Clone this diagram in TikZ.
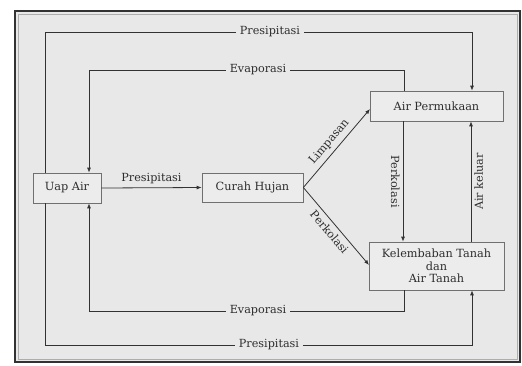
\documentclass[tikz,border=0pt]{standalone}
\usepackage{fontspec}
\setmainfont{DejaVu Serif}
\usetikzlibrary{arrows.meta}
\definecolor{bgc}{RGB}{232,232,232}
\definecolor{boxc}{RGB}{236,236,236}
\definecolor{linec}{RGB}{50,50,50}
\definecolor{txtc}{RGB}{45,45,45}
\begin{document}
\begin{tikzpicture}[x=1pt,y=-1pt,
  box/.style={draw=linec!70, line width=0.7pt, fill=boxc, text=txtc, font=\fontsize{11.3}{12.5}\selectfont, inner sep=0pt, align=center},
  conn/.style={draw=linec, line width=0.8pt},
  arr/.style={conn, -{Latex[length=5pt,width=4pt]}},
  lbl/.style={fill=bgc, text=txtc, font=\fontsize{11.2}{12}\selectfont, inner sep=4pt},
  slbl/.style={text=txtc, font=\fontsize{11.2}{12}\selectfont, inner sep=3pt}]
\useasboundingbox (0,0) rectangle (522,365);
\fill[white] (0,0) rectangle (522,365);
\fill[bgc] (15,11) rectangle (520,362);
\draw[linec, line width=1.4pt] (15,11) rectangle (520,362);
\draw[linec!40, line width=0.6pt] (18,14) rectangle (517,359);

\node[box, minimum width=68pt, minimum height=30pt] (uap) at (67,188) {Uap Air};
\node[box, minimum width=101pt, minimum height=29pt] (curah) at (252.5,187.5) {Curah Hujan};
\node[box, minimum width=133pt, minimum height=30pt] (airp) at (436.5,106) {Air Permukaan};
\node[box, minimum width=135pt, minimum height=48pt] (kel) at (436.5,266) {Kelembaban Tanah\\dan\\Air Tanah};

\coordinate (t1) at (45,32);
\coordinate (t2) at (472,32);
\coordinate (e1) at (404,70);
\coordinate (e2) at (89,70);
\coordinate (b1) at (404,311);
\coordinate (b2) at (89,311);
\coordinate (p1) at (45,345);
\coordinate (p2) at (472,345);

% top presipitasi
\draw[arr] (uap.north -| t1) -- (t1) -- (t2) -- (airp.north -| t2);
\node[lbl] (lp1) at (270,32) {Presipitasi};
% top evaporasi
\draw[arr] (airp.north -| e1) -- (e1) -- (e2) -- (uap.north -| e2);
\node[lbl] (le1) at (258,70) {Evaporasi};
% bottom evaporasi
\draw[arr] (kel.south -| b1) -- (b1) -- (b2) -- (uap.south -| b2);
\node[lbl] (le2) at (258,311) {Evaporasi};
% bottom presipitasi
\draw[arr] (uap.south -| p1) -- (p1) -- (p2) -- (kel.south -| p2);
\node[lbl] (lp2) at (269,345) {Presipitasi};

% uap -> curah
\draw[arr] (uap.east) -- node[slbl, above=1pt] {Presipitasi} (curah.west);
% limpasan
\coordinate (lim) at (370,109);
\draw[arr] (curah.east) -- node[slbl, sloped, above=1pt] {Limpasan} (lim);
% perkolasi diagonal
\coordinate (per) at (369,265);
\draw[arr] (curah.east) -- node[slbl, sloped, below=1pt] {Perkolasi} (per);
% perkolasi vertical
\coordinate (v1) at (403,0);
\coordinate (v2) at (471,0);
\draw[arr] (airp.south -| v1) -- node[slbl, rotate=-90, anchor=north] {Perkolasi} (kel.north -| v1);
\draw[arr] (kel.north -| v2) -- node[slbl, rotate=90, anchor=north] {Air keluar} (airp.south -| v2);
\end{tikzpicture}
\end{document}
